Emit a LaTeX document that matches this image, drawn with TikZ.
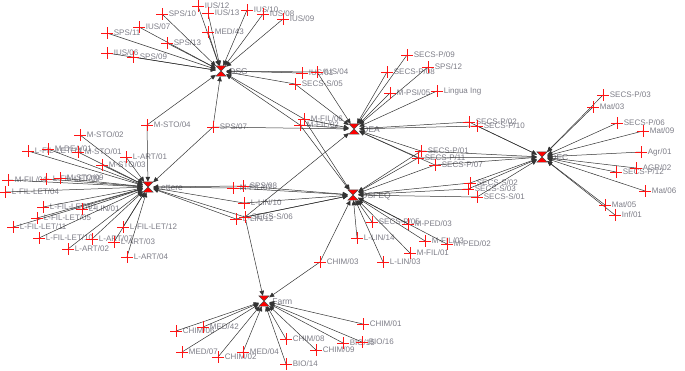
\documentclass[tikz,border=0pt]{standalone}
\usepackage{fontspec}
\setmainfont{Liberation Sans}
\usepackage{tikz}
\usetikzlibrary{arrows.meta}
\definecolor{lblgray}{RGB}{125,125,135}
\definecolor{plusred}{RGB}{255,20,20}

\tikzset{
  lbl/.style={text=lblgray, font=\fontsize{8}{10}\selectfont, inner sep=1pt},
  hublbl/.style={lbl, font=\fontsize{8.5}{10}\selectfont, label distance=2pt, yshift=-1pt},
  leaf/.style={minimum size=11pt, inner sep=0pt},
  hub/.style={minimum size=10pt, inner sep=0pt},
  plusmark/.style={draw=plusred, line width=1pt},
  hubmark/.style={fill=red, draw=black!70, line width=0.4pt},
  edge/.style={black!80, line width=0.5pt, -{Triangle[length=5pt, width=4.5pt]}}
}

\begin{document}
\begin{tikzpicture}[x=1pt, y=-1pt]
  \useasboundingbox (0,0) rectangle (685,370);

  % hubs
  \node[hub, label={[hublbl]right:DSG}] (dsg) at (221,71) {};
  \node[hub, label={[hublbl]right:Lettere}] (lettere) at (148,187) {};
  \node[hub, label={[hublbl]right:DEA}] (dea) at (354,129) {};
  \node[hub, label={[hublbl]right:DSFEQ}] (dsfeq) at (353,195) {};
  \node[hub, label={[hublbl]right:DEC}] (dec) at (542,157) {};
  \node[hub, label={[hublbl]right:Farm}] (farm) at (264,301) {};

  % DSG leaves
  \node[leaf, label={[lbl]right:SPS/10}] (sps10) at (162,14) {};
  \node[leaf, label={[lbl]right:IUS/12}] (ius12) at (198,6) {};
  \node[leaf, label={[lbl]right:IUS/13}] (ius13) at (208,13) {};
  \node[leaf, label={[lbl]right:IUS/10}] (ius10) at (247,10) {};
  \node[leaf, label={[lbl]right:IUS/08}] (ius08) at (263,14) {};
  \node[leaf, label={[lbl]right:IUS/09}] (ius09) at (283,19) {};
  \node[leaf, label={[lbl]right:MED/43}] (med43) at (208,32) {};
  \node[leaf, label={[lbl]right:IUS/07}] (ius07) at (139,27) {};
  \node[leaf, label={[lbl]right:SPS/11}] (sps11) at (107,33) {};
  \node[leaf, label={[lbl]right:SPS/13}] (sps13) at (167,43) {};
  \node[leaf, label={[lbl]right:IUS/06}] (ius06) at (107,53) {};
  \node[leaf, label={[lbl]right:SPS/09}] (sps09) at (133,57) {};
  \node[leaf, label={[lbl]right:IUS/01}] (ius01) at (302,73) {};
  \node[leaf, label={[lbl]right:IUS/04}] (ius04) at (317,72) {};
  \node[leaf, label={[lbl]right:SECS-S/05}] (secss05) at (295,84) {};
  \node[leaf, label={[lbl]right:M-STO/04}] (msto04) at (147,125) {};
  \node[leaf, label={[lbl]right:SPS/07}] (sps07) at (213,127) {};
  \node[leaf, label={[lbl]right:M-FIL/02}] (mfil02) at (300,125) {};
  \node[leaf, label={[lbl]right:M-FIL/06}] (mfil06) at (304,119) {};

  % Lettere leaves
  \node[leaf, label={[lbl]right:M-STO/02}] (msto02) at (80,135) {};
  \node[leaf, label={[lbl]right:L-FIL-LET/14}] (lfillet14) at (28,151) {};
  \node[leaf, label={[lbl]right:M-DEA/01}] (mdea01) at (48,149) {};
  \node[leaf, label={[lbl]right:M-STO/01}] (msto01) at (78,152) {};
  \node[leaf, label={[lbl]right:L-ART/01}] (lart01) at (126,157) {};
  \node[leaf, label={[lbl]right:M-STO/03}] (msto03) at (102,165) {};
  \node[leaf, label={[lbl]right:L-FIL-LET/09}] (lfillet09) at (46,179) {};
  \node[leaf, label={[lbl]right:M-FIL/04}] (mfil04) at (8,180) {};
  \node[leaf, label={[lbl]right:M-STO/09}] (msto09) at (60,178) {};
  \node[leaf, label={[lbl]right:L-FIL-LET/04}] (lfillet04) at (5,192) {};
  \node[leaf, label={[lbl]right:L-FIL-LET/01}] (lfillet01) at (43,207) {};
  \node[leaf, label={[lbl]right:L-LIN/01}] (llin01) at (82,209) {};
  \node[leaf, label={[lbl]right:L-FIL-LET/05}] (lfillet05) at (37,218) {};
  \node[leaf, label={[lbl]right:L-FIL-LET/11}] (lfillet11) at (13,227) {};
  \node[leaf, label={[lbl]right:L-FIL-LET/12}] (lfillet12) at (123,227) {};
  \node[leaf, label={[lbl]right:L-ART/03}] (lart03) at (114,242) {};
  \node[leaf, label={[lbl]right:L-ART/07}] (lart07) at (92,239) {};
  \node[leaf, label={[lbl]right:L-FIL-LET/10}] (lfillet10) at (39,238) {};
  \node[leaf, label={[lbl]right:L-ART/02}] (lart02) at (68,249) {};
  \node[leaf, label={[lbl]right:L-ART/04}] (lart04) at (127,257) {};
  \node[leaf, label={[lbl]right:M-FIL/07}] (mfil07) at (233,188) {};
  \node[leaf, label={[lbl]right:SPS/08}] (sps08) at (243,186) {};
  \node[leaf, label={[lbl]right:L-LIN/10}] (llin10) at (244,203) {};
  \node[leaf, label={[lbl]right:L-LIN/12}] (llin12) at (236,219) {};
  \node[leaf, label={[lbl]right:SECS-S/06}] (secss06) at (245,217) {};

  % DEA leaves
  \node[leaf, label={[lbl]right:SECS-P/09}] (secsp09) at (407,55) {};
  \node[leaf, label={[lbl]right:SECS-P/08}] (secsp08) at (387,72) {};
  \node[leaf, label={[lbl]right:SPS/12}] (sps12) at (428,67) {};
  \node[leaf, label={[lbl]right:M-PSI/05}] (mpsi05) at (390,93) {};
  \node[leaf, label={[lbl]right:Lingua Ing}] (linguaing) at (437,91) {};
  \node[leaf, label={[lbl]right:SECS-P/02}] (secsp02) at (469,122) {};
  \node[leaf, label={[lbl]right:SECS-P/10}] (secsp10) at (477,126) {};
  \node[leaf, label={[lbl]right:SECS-P/01}] (secsp01) at (421,151) {};
  \node[leaf, label={[lbl]right:SECS-P/11}] (secsp11) at (418,158) {};
  \node[leaf, label={[lbl]right:SECS-P/07}] (secsp07) at (435,165) {};

  % DSFEQ leaves
  \node[leaf, label={[lbl]right:SECS-S/02}] (secss02) at (470,183) {};
  \node[leaf, label={[lbl]right:SECS-S/03}] (secss03) at (468,189) {};
  \node[leaf, label={[lbl]right:SECS-S/01}] (secss01) at (477,197) {};
  \node[leaf, label={[lbl]right:SECS-P/05}] (secsp05) at (372,222) {};
  \node[leaf, label={[lbl]right:M-PED/03}] (mped03) at (408,224) {};
  \node[leaf, label={[lbl]right:M-FIL/03}] (mfil03) at (425,241) {};
  \node[leaf, label={[lbl]right:M-PED/02}] (mped02) at (447,244) {};
  \node[leaf, label={[lbl]right:L-LIN/14}] (llin14) at (357,238) {};
  \node[leaf, label={[lbl]right:M-FIL/01}] (mfil01) at (410,253) {};
  \node[leaf, label={[lbl]right:L-LIN/03}] (llin03) at (383,262) {};
  \node[leaf, label={[lbl]right:CHIM/03}] (chim03) at (320,262) {};

  % DEC leaves
  \node[leaf, label={[lbl]right:SECS-P/03}] (secsp03) at (603,95) {};
  \node[leaf, label={[lbl]right:Mat/03}] (mat03) at (593,107) {};
  \node[leaf, label={[lbl]right:SECS-P/06}] (secsp06) at (617,123) {};
  \node[leaf, label={[lbl]right:Mat/09}] (mat09) at (643,131) {};
  \node[leaf, label={[lbl]right:Agr/01}] (agr01) at (641,152) {};
  \node[leaf, label={[lbl]right:AGR/02}] (agr02) at (636,168) {};
  \node[leaf, label={[lbl]right:SECS-P/12}] (secsp12) at (616,172) {};
  \node[leaf, label={[lbl]right:Mat/06}] (mat06) at (645,191) {};
  \node[leaf, label={[lbl]right:Mat/05}] (mat05) at (605,205) {};
  \node[leaf, label={[lbl]right:Inf/01}] (inf01) at (615,215) {};

  % Farm leaves
  \node[leaf, label={[lbl]right:CHIM/06}] (chim06) at (176,331) {};
  \node[leaf, label={[lbl]right:MED/42}] (med42) at (203,327) {};
  \node[leaf, label={[lbl]right:MED/07}] (med07) at (182,352) {};
  \node[leaf, label={[lbl]right:CHIM/02}] (chim02) at (218,357) {};
  \node[leaf, label={[lbl]right:MED/04}] (med04) at (243,352) {};
  \node[leaf, label={[lbl]right:BIO/14}] (bio14) at (286,364) {};
  \node[leaf, label={[lbl]right:CHIM/08}] (chim08) at (286,339) {};
  \node[leaf, label={[lbl]right:CHIM/09}] (chim09) at (316,350) {};
  \node[leaf, label={[lbl]right:BIO/15}] (bio15) at (343,343) {};
  \node[leaf, label={[lbl]right:BIO/16}] (bio16) at (362,342) {};
  \node[leaf, label={[lbl]right:CHIM/01}] (chim01) at (363,324) {};

  % connections
  \foreach \n in {sps10,ius12,ius13,ius10,ius08,ius09,med43,ius07,sps11,sps13,
      ius06,sps09,ius01,ius04,secss05,msto04,sps07,mfil02,mfil06}
    \draw[edge] (\n.center) -- (dsg);
  \foreach \n in {msto02,lfillet14,mdea01,msto01,lart01,msto03,lfillet09,mfil04,
      msto09,lfillet04,lfillet01,llin01,lfillet05,lfillet11,lfillet12,lart03,lart07,
      lfillet10,lart02,lart04,mfil07,sps08,llin10,llin12,secss06,msto04,sps07}
    \draw[edge] (\n.center) -- (lettere);
  \foreach \n in {secsp09,secsp08,sps12,mpsi05,linguaing,secsp02,secsp10,secsp01,
      secsp11,secsp07,ius04,secss05,mfil06,mfil02,sps07,secss06}
    \draw[edge] (\n.center) -- (dea);
  \foreach \n in {secsp05,mped03,mfil03,mped02,llin14,mfil01,llin03,chim03,secss02,
      secss03,secss01,secsp11,secsp07,secsp01,sps08,mfil07,llin10,secss06,llin12,
      mfil06,mfil02}
    \draw[edge] (\n.center) -- (dsfeq);
  \foreach \n in {secsp03,mat03,secsp06,mat09,agr01,agr02,secsp12,mat06,mat05,inf01,
      secsp02,secsp10,secsp01,secsp11,secsp07,secss02,secss03,secss01}
    \draw[edge] (\n.center) -- (dec);
  \foreach \n in {chim06,med42,med07,chim02,med04,bio14,chim08,chim09,bio15,bio16,
      chim01,chim03,secss06}
    \draw[edge] (\n.center) -- (farm);

  % markers on top
  \foreach \n in {sps10,ius12,ius13,ius10,ius08,ius09,med43,ius07,sps11,sps13,ius06,
      sps09,ius01,ius04,secss05,msto04,sps07,mfil02,mfil06,msto02,lfillet14,mdea01,
      msto01,lart01,msto03,lfillet09,mfil04,msto09,lfillet04,lfillet01,llin01,
      lfillet05,lfillet11,lfillet12,lart03,lart07,lfillet10,lart02,lart04,mfil07,
      sps08,llin10,llin12,secss06,secsp09,secsp08,sps12,mpsi05,linguaing,secsp02,
      secsp10,secsp01,secsp11,secsp07,secss02,secss03,secss01,secsp05,mped03,mfil03,
      mped02,llin14,mfil01,llin03,chim03,secsp03,mat03,secsp06,mat09,agr01,agr02,
      secsp12,mat06,mat05,inf01,chim06,med42,med07,chim02,med04,bio14,chim08,chim09,
      bio15,bio16,chim01}
    \draw[plusmark] (\n.north) -- (\n.south) (\n.west) -- (\n.east);
  \foreach \n in {dsg,lettere,dea,dsfeq,dec,farm}
    \filldraw[hubmark] (\n.north west) -- (\n.north east) -- (\n.south west)
      -- (\n.south east) -- cycle;
\end{tikzpicture}
\end{document}
